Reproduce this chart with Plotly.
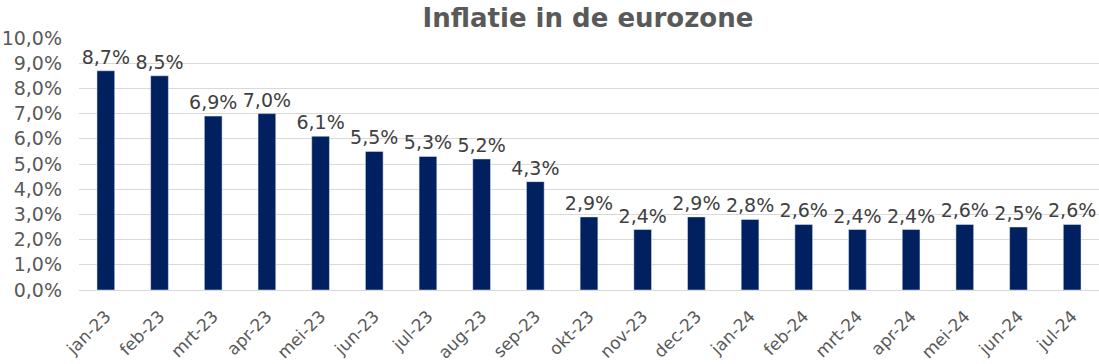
import plotly.graph_objects as go

months = ["jan-23", "feb-23", "mrt-23", "apr-23", "mei-23", "jun-23", "jul-23", "aug-23", "sep-23",
          "okt-23", "nov-23", "dec-23", "jan-24", "feb-24", "mrt-24", "apr-24", "mei-24", "jun-24", "jul-24"]
inflation = [8.7, 8.5, 6.9, 7.0, 6.1, 5.5, 5.3, 5.2, 4.3,
             2.9, 2.4, 2.9, 2.8, 2.6, 2.4, 2.4, 2.6, 2.5, 2.6]
y_ticks = [0, 1, 2, 3, 4, 5, 6, 7, 8, 9, 10]

vals = [v / 100 for v in inflation]

fig = go.Figure(go.Bar(
    x=months, y=vals, width=0.33,
    marker=dict(color="#002060"),
    texttemplate="%{y:.1%}", textposition="outside", cliponaxis=False,
    constraintext="none",
    textfont=dict(family="DejaVu Sans", size=19, color="#404040"),
))

fig.update_layout(
    width=1099, height=364,
    margin=dict(l=79, r=0, t=38, b=74, autoexpand=False),
    paper_bgcolor="white", plot_bgcolor="white",
    separators=",.",
    showlegend=False,
    title=dict(text="<b>Inflatie in de eurozone</b>", x=0.535, xanchor="center", y=0.95, yanchor="middle",
               font=dict(family="DejaVu Sans", size=26, color="#595959")),
    font=dict(family="DejaVu Sans", color="#595959"),
)
fig.update_xaxes(tickangle=-45, tickfont=dict(size=17, color="#595959"), showgrid=False,
                 showline=False, ticks="", automargin=False, ticklabelstandoff=12)
fig.update_yaxes(range=[0, 0.1], tickvals=[t / 100 for t in y_ticks], tickformat=".1%",
                 tickfont=dict(size=19, color="#595959"), gridcolor="#d9d9d9", gridwidth=1,
                 zeroline=True, zerolinecolor="#d9d9d9", zerolinewidth=1, showline=False, ticks="",
                 automargin=False, ticklabelstandoff=16)

fig.write_html("out.html", config={"displayModeBar": False},
               post_script="document.body.style.margin='0';document.body.style.overflow='hidden';")
